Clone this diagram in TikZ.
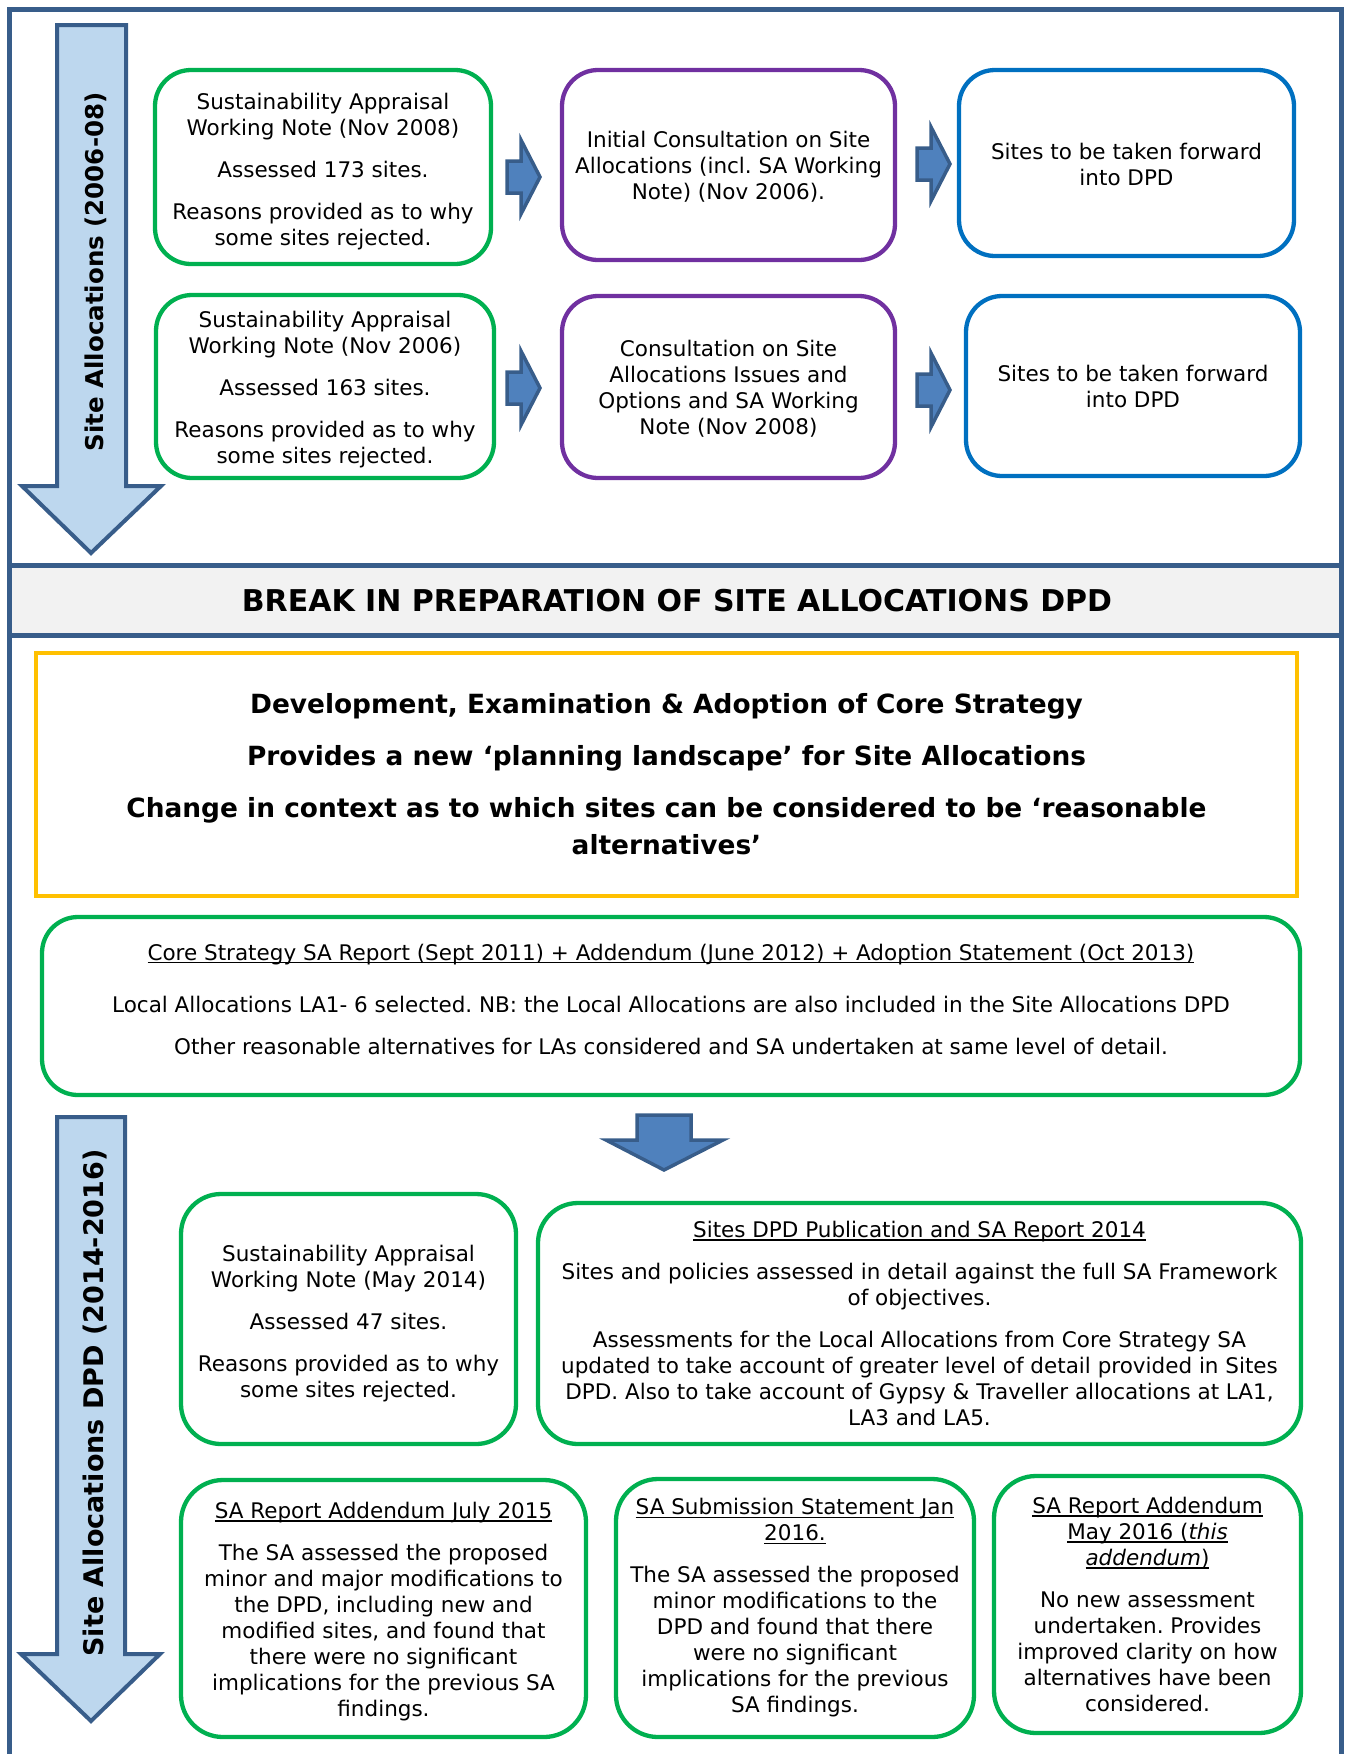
\documentclass[tikz,border=0pt]{standalone}
\usepackage{fontspec}
\setmainfont{DejaVu Sans}
\frenchspacing
\definecolor{framec}{RGB}{56,93,138}
\definecolor{lightarr}{RGB}{189,215,238}
\definecolor{arrfill}{RGB}{79,129,189}
\definecolor{grn}{RGB}{0,176,80}
\definecolor{prp}{RGB}{112,48,160}
\definecolor{blu}{RGB}{0,112,192}
\definecolor{ylw}{RGB}{255,192,0}
\definecolor{bandgray}{RGB}{242,242,242}
\newsavebox\ulbox
\newcommand\ulx[1]{\sbox\ulbox{#1}\rlap{\rule[-3pt]{\wd\ulbox}{1.3pt}}\usebox\ulbox}
\newcommand\dn[1]{\rule{0pt}{#1pt}}
\newcommand\rblock[2]{\draw[smallarr, shift={(#1,#2)}] (0,-16) -- (14,-16) -- (14,-37) -- (33,0) -- (14,37) -- (14,16) -- (0,16) -- cycle;}
\begin{document}
\begin{tikzpicture}[x=1pt,y=-1pt,
 box/.style={draw, line width=4.3pt, rounded corners=36pt, fill=white, align=center, inner sep=0pt, font=\fontsize{21.5}{26}\selectfont},
 gbox/.style={box, draw=grn},
 pbox/.style={box, draw=prp},
 bbox/.style={box, draw=blu},
 bigarr/.style={draw=framec, fill=lightarr, line width=4pt, line join=miter},
 smallarr/.style={draw=framec, fill=arrfill, line width=3.5pt, line join=miter},
 framel/.style={draw=framec, line width=5pt},
 sidetext/.style={rotate=90, font=\bfseries\fontsize{24.5}{28}\selectfont, inner sep=0pt},
]
\useasboundingbox (0,0) rectangle (1345,1754);
% frame and band
\fill[bandgray] (9,565) rectangle (1341,635);
\draw[framel] (9,1770) -- (9,9) -- (1341,9) -- (1341,1770);
\draw[framel] (9,565) -- (1341,565);
\draw[framel] (9,635) -- (1341,635);
\node[font=\bfseries\fontsize{30}{34}\selectfont, inner sep=0pt] (brk) at (677,601) {BREAK IN PREPARATION OF SITE ALLOCATIONS DPD};

% big side arrows
\draw[bigarr] (57,25) -- (126,25) -- (126,486) -- (161,486) -- (91,553) -- (22,486) -- (57,486) -- cycle;
\node[sidetext] (lab1) at (96,272) {Site Allocations (2006-08)};
\draw[bigarr] (57,1117) -- (125,1117) -- (125,1654) -- (160,1654) -- (91,1721) -- (21,1654) -- (57,1654) -- cycle;
\node[sidetext, font=\bfseries\fontsize{27}{30}\selectfont] (lab2) at (95,1403) {Site Allocations DPD (2014-2016)};

% top section boxes
\node[gbox, minimum width=336pt, minimum height=194pt] (g1) at (323,167)
 {\dn{25}Sustainability Appraisal\\ Working Note (Nov 2008)\\[16pt] Assessed 173 sites.\\[16pt] Reasons provided as to why\\ some sites rejected.};
\node[gbox, minimum width=338pt, minimum height=183pt] (g2) at (325,386.5)
 {\dn{23}Sustainability Appraisal\\ Working Note (Nov 2006)\\[16pt] Assessed 163 sites.\\[16pt] Reasons provided as to why\\ some sites rejected.};
\node[pbox, minimum width=333pt, minimum height=190pt] (p1) at (728.5,165)
 {\dn{20}Initial Consultation on Site\\ Allocations (incl. SA Working\\ Note) (Nov 2006).};
\node[pbox, minimum width=333pt, minimum height=182pt] (p2) at (728.5,387)
 {\dn{20}Consultation on Site\\ Allocations Issues and\\ Options and SA Working\\ Note (Nov 2008)};
\node[bbox, minimum width=335pt, minimum height=186pt] (b1) at (1126.5,163)
 {\dn{19}Sites to be taken forward\\ into DPD};
\node[bbox, minimum width=334pt, minimum height=180pt] (b2) at (1133,386)
 {Sites to be taken forward\\ into DPD};

\rblock{507}{177}
\rblock{917}{164}
\rblock{507}{388}
\rblock{917}{390}

% core strategy
\node[draw=ylw, line width=4.3pt, fill=white, align=center, inner sep=0pt, minimum width=1261pt, minimum height=243pt, font=\bfseries\fontsize{26.4}{37}\selectfont] (ys) at (666.5,774.5)
 {Development, Examination \& Adoption of Core Strategy\\[15pt] Provides a new ‘planning landscape’ for Site Allocations\\[15pt] Change in context as to which sites can be considered to be ‘reasonable\\ alternatives’};
\node[gbox, rounded corners=36pt, minimum width=1258pt, minimum height=178pt] (cs) at (671,1006)
 {\ulx{Core Strategy SA Report (Sept 2011) + Addendum (June 2012) + Adoption Statement (Oct 2013)}\\[26pt]
 Local Allocations LA1- 6 selected. NB: the Local Allocations are also included in the Site Allocations DPD\\[16pt]
 Other reasonable alternatives for LAs considered and SA undertaken at same level of detail.\rule[-14pt]{0pt}{14pt}};

% down arrow
\draw[smallarr] (637,1115) -- (691,1115) -- (691,1140) -- (723,1140) -- (664,1170) -- (606,1140) -- (637,1140) -- cycle;

% bottom section boxes
\node[gbox, rounded corners=40pt, minimum width=335pt, minimum height=250pt] (m14) at (348.5,1319)
 {\dn{25}Sustainability Appraisal\\ Working Note (May 2014)\\[16pt] Assessed 47 sites.\\[16pt] Reasons provided as to why\\ some sites rejected.};
\node[gbox, rounded corners=40pt, minimum width=763pt, minimum height=241pt] (sd) at (919.5,1323.5)
 {\ulx{Sites DPD Publication and SA Report 2014}\\[16pt]
 Sites and policies assessed in detail against the full SA Framework\\ of objectives.\\[16pt]
 Assessments for the Local Allocations from Core Strategy SA\\ updated to take account of greater level of detail provided in Sites\\ DPD. Also to take account of Gypsy \& Traveller allocations at LA1,\\ LA3 and LA5.};
\node[gbox, rounded corners=42pt, minimum width=405pt, minimum height=257pt] (j15) at (383.5,1608.5)
 {\dn{23}\ulx{SA Report Addendum July 2015}\\[16pt]
 The SA assessed the proposed\\ minor and major modifications to\\ the DPD, including new and\\ modified sites, and found that\\ there were no significant\\ implications for the previous SA\\ findings.};
\node[gbox, rounded corners=42pt, minimum width=358pt, minimum height=258pt] (s16) at (795,1608)
 {\ulx{SA Submission Statement Jan}\\ \ulx{2016.}\\[16pt]
 The SA assessed the proposed\\ minor modifications to the\\ DPD and found that there\\ were no significant\\ implications for the previous\\ SA findings.};
\node[gbox, rounded corners=42pt, minimum width=307pt, minimum height=257pt] (m16) at (1147.5,1604.5)
 {\ulx{SA Report Addendum}\\ \ulx{May 2016 (\textit{this}}\\ \ulx{\textit{addendum})}\\[16pt]
 No new assessment\\ undertaken. Provides\\ improved clarity on how\\ alternatives have been\\ considered.};
\end{tikzpicture}
\end{document}
